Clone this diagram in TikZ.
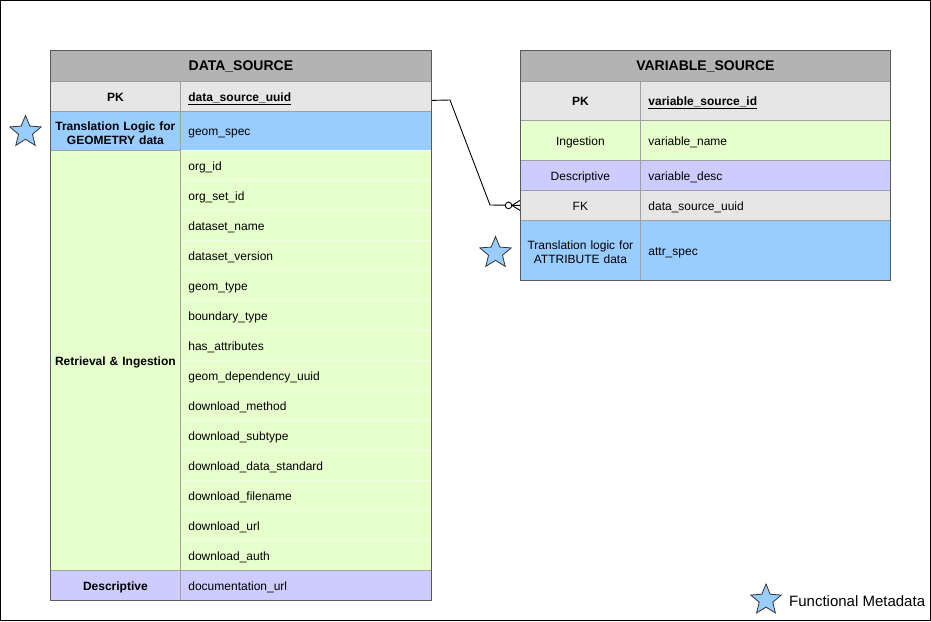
\documentclass[tikz,border=0pt]{standalone}
\usepackage{fontspec}
\setmainfont{Liberation Sans}
\usetikzlibrary{shapes.geometric}
\definecolor{hdrgray}{HTML}{B3B3B3}
\definecolor{pkgray}{HTML}{E6E6E6}
\definecolor{bluefill}{HTML}{99CCFF}
\definecolor{greenfill}{HTML}{E6FFCC}
\definecolor{purplefill}{HTML}{CCCCFF}
\definecolor{linegray}{HTML}{A0A0A0}
\definecolor{outergray}{HTML}{5A5A5A}
\definecolor{greensep}{HTML}{F4FFEA}
\definecolor{starblue}{HTML}{99CCFF}
\newcommand\mystrut{\rule[-3pt]{0pt}{16pt}}
\tikzset{
 base/.style={rectangle, inner ysep=0pt, anchor=north west, line width=0.8pt, font=\fontsize{12}{14}\selectfont, execute at begin node=\mystrut},
 twoline/.style={execute at begin node={}},
 boldtxt/.style={font=\fontsize{12}{14}\selectfont\bfseries},
 hdr/.style={base, fill=hdrgray, draw=outergray, font=\fontsize{14}{16}\selectfont\bfseries, inner xsep=0pt},
 llab/.style={base, draw=linegray, text width=122pt, inner xsep=4pt, align=center, minimum height=#1},
 rlab/.style={base, draw=linegray, text width=112pt, inner xsep=4pt, align=center, minimum height=#1},
 lval/.style={base, draw=linegray, text width=235pt, inner xsep=8pt, align=left, minimum height=#1},
 rval/.style={base, draw=linegray, text width=234pt, inner xsep=8pt, align=left, minimum height=#1},
 gval/.style={lval=#1, draw=greensep, fill=greenfill},
 outline/.style={draw=outergray, line width=1pt},
 fstar/.style={star, star points=5, star point ratio=2.25, draw=black!80, fill=starblue, inner sep=0pt, minimum size=33pt, line width=0.8pt},
 link/.style={draw=black, line width=0.9pt},
}
\begin{document}
\begin{tikzpicture}[x=1pt,y=-1pt]
\useasboundingbox (0,0) rectangle (931,621);
\draw[black, line width=1pt] (0.5,0.5) rectangle (930.5,620.5);

% ---------------- DATA_SOURCE ----------------
\node[hdr, minimum width=381pt, minimum height=31pt] (dsh) at (50,50) {DATA\_SOURCE};
\node[llab=30pt, fill=pkgray, boldtxt] (dspk) at (50,81) {PK};
\node[lval=30pt, fill=pkgray, boldtxt] (dspkv) at (180,81) {\underline{data\_source\_uuid}};
\node[lval=39pt, fill=bluefill] (dsgv) at (180,111) {geom\_spec};
\node[llab=39pt, fill=bluefill, boldtxt, twoline] (dsg) at (50,111) {Translation Logic for\\GEOMETRY data};
\foreach \t [count=\i from 0] in {org\_id, org\_set\_id, dataset\_name, dataset\_version, geom\_type, boundary\_type, has\_attributes, geom\_dependency\_uuid, download\_method, download\_subtype, download\_data\_standard, download\_filename, download\_url, download\_auth}
  \node[gval=30pt] (dsv\i) at (180,{150+30*\i}) {\t};
\node[llab=420pt, fill=greenfill, boldtxt] (dsret) at (50,150) {Retrieval \& Ingestion};
\node[lval=30pt, fill=purplefill] (dsdv) at (180,570) {documentation\_url};
\node[llab=30pt, fill=purplefill, boldtxt] (dsd) at (50,570) {Descriptive};
\draw[outline] (dsh.north west) rectangle (dsdv.south east);

% ---------------- VARIABLE_SOURCE ----------------
\node[hdr, minimum width=370pt, minimum height=31pt] (vsh) at (520,50) {VARIABLE\_SOURCE};
\node[rval=39pt, fill=pkgray, boldtxt] (vspkv) at (640,81) {\underline{variable\_source\_id}};
\node[rlab=39pt, fill=pkgray, boldtxt] (vspk) at (520,81) {PK};
\node[rval=40pt, fill=greenfill] (vsiv) at (640,120) {variable\_name};
\node[rlab=40pt, fill=greenfill] (vsi) at (520,120) {Ingestion};
\node[rval=30pt, fill=purplefill] (vsdv) at (640,160) {variable\_desc};
\node[rlab=30pt, fill=purplefill] (vsd) at (520,160) {Descriptive};
\node[rval=30pt, fill=pkgray] (vsfkv) at (640,190) {data\_source\_uuid};
\node[rlab=30pt, fill=pkgray] (vsfk) at (520,190) {FK};
\node[rval=60pt, fill=bluefill] (vstv) at (640,220) {attr\_spec};
\node[rlab=60pt, fill=bluefill, twoline] (vst) at (520,220) {Translation logic for\\ATTRIBUTE data};
\draw[outline] (vsh.north west) rectangle (vstv.south east);

% ---------------- relationship ----------------
\coordinate (bend1) at (450,100);
\coordinate (bend2) at (490,205);
\draw[link] ([yshift=-4pt]dspkv.east) -- (bend1) -- (bend2) -- (vsfk.west);
\draw[link, fill=white] ([xshift=-11.5pt]vsfk.west) circle (3.3pt);
\draw[link] ([xshift=-8pt]vsfk.west) -- ([yshift=5pt]vsfk.west);
\draw[link] ([xshift=-8pt]vsfk.west) -- ([yshift=-5pt]vsfk.west);

% ---------------- stars & legend ----------------
\node[fstar] (star1) at (25.5,132) {};
\node[fstar] (star2) at (495.5,253) {};
\node[fstar, minimum size=32pt] (star3) at (766,600) {};
\node[anchor=west, inner sep=0pt, font=\fontsize{15}{17}\selectfont] (legend) at (789,601) {Functional Metadata};
\end{tikzpicture}
\end{document}
